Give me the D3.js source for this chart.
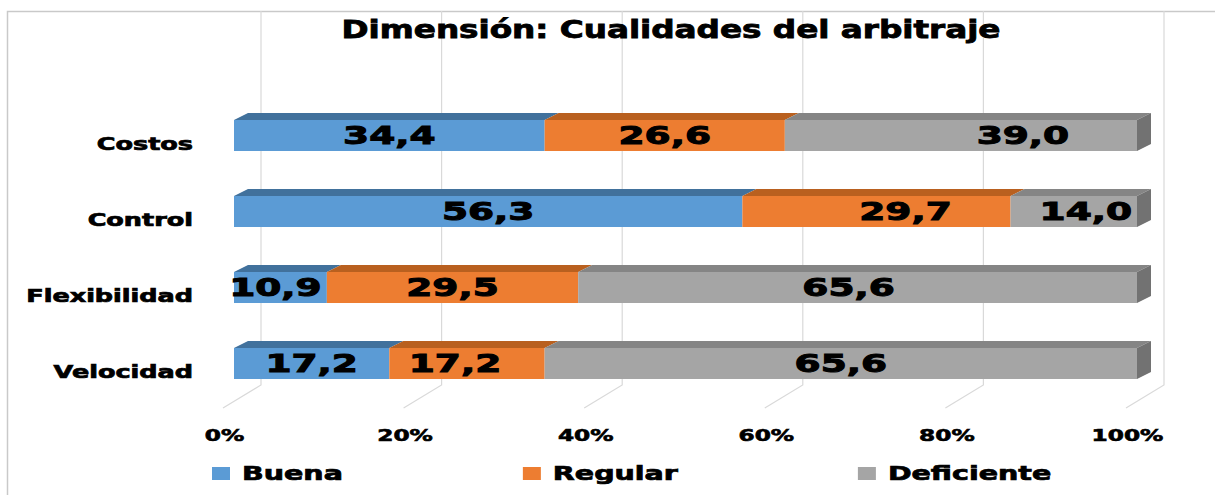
<!DOCTYPE html>
<html>
<head>
<meta charset="utf-8">
<script src="https://cdn.jsdelivr.net/npm/d3@7"></script>
<style>
  body { margin: 0; background: #fff; }
  text { font-family: 'DejaVu Sans', sans-serif; font-weight: bold; fill: #000; stroke: #000; stroke-width: 0.6px; }
</style>
</head>
<body>
<script>
// data
var categories = ['Costos', 'Control', 'Flexibilidad', 'Velocidad']
var seriesNames = ['Buena', 'Regular', 'Deficiente']
var buena = [34.4, 56.3, 10.9, 17.2]
var regular = [26.6, 29.7, 29.5, 17.2]
var deficiente = [39.0, 14.0, 65.6, 65.6]
var tickValues = [0, 0.2, 0.4, 0.6, 0.8, 1]

var colors = ['#5B9BD5', '#ED7D31', '#A5A5A5']
var topColors = ['#41719C', '#B9601F', '#858585']
var sideColor = '#727272'

// labels that were dragged off-centre in the original
var labelNudge = {
    'Costos|Deficiente': 62,
    'Control|Regular': 29,
    'Control|Deficiente': 12,
    'Flexibilidad|Buena': -5,
    'Flexibilidad|Deficiente': -9,
    'Velocidad|Regular': -12
}

var W = 1215, H = 495
var stretch = 1.5          // the original picture is stretched sideways
var depth = { dx: 14, dy: -7 }

var rows = categories.map((c, i) => ({
    cat: c, Buena: buena[i], Regular: regular[i], Deficiente: deficiente[i]
}))

var stack = d3.stack().keys(seriesNames).offset(d3.stackOffsetExpand)
var layers = stack(rows)

var x = d3.scaleLinear().domain([0, 1]).range([234, 1137])
var y = d3.scaleBand().domain(categories).range([97.5, 401.5])
    .paddingInner(0.592).paddingOuter(0.296)

var es = d3.formatLocale({ decimal: ',', thousands: '.', grouping: [3], currency: ['', ''] })
var fmt = es.format('.1f')

var svg = d3.select('body').append('svg')
    .attr('width', W)
    .attr('height', H)

// frame
svg.append('path')
    .attr('d', 'M7.5,' + H + 'V11.5H' + W)
    .attr('fill', 'none')
    .attr('stroke', '#C9C9C9')
    .attr('stroke-width', 1.5)

// back wall gridlines + floor lines
var wallDx = 27, floorDx = -11
svg.append('g').selectAll('path')
    .data(tickValues)
    .join('path')
    .attr('d', v => 'M' + (x(v) + wallDx) + ',11V385L' + (x(v) + floorDx) + ',408')
    .attr('fill', 'none')
    .attr('stroke', '#D9D9D9')
    .attr('stroke-width', 1.2)

// title
svg.append('text')
    .attr('transform', 'translate(671,38) scale(1.36,1)')
    .attr('text-anchor', 'middle')
    .style('font-size', '24px')
    .style('stroke-width', '0.8px')
    .text('Dimensión: Cualidades del arbitraje')

// bars
var barG = svg.append('g')
layers.forEach((layer, si) => {
    var g = barG.append('g')
    layer.forEach((d, ri) => {
        var x0 = x(d[0]), x1 = x(d[1])
        var yt = y(d.data.cat), yb = yt + y.bandwidth()
        g.append('rect')
            .attr('x', x0).attr('y', yt)
            .attr('width', x1 - x0).attr('height', y.bandwidth())
            .attr('fill', colors[si])
        g.append('path')
            .attr('d', 'M' + x0 + ',' + yt + 'L' + x1 + ',' + yt +
                'L' + (x1 + depth.dx) + ',' + (yt + depth.dy) +
                'L' + (x0 + depth.dx) + ',' + (yt + depth.dy) + 'Z')
            .attr('fill', topColors[si])
        if (si === layers.length - 1) {
            g.append('path')
                .attr('d', 'M' + x1 + ',' + yt + 'L' + (x1 + depth.dx) + ',' + (yt + depth.dy) +
                    'L' + (x1 + depth.dx) + ',' + (yb + depth.dy) + 'L' + x1 + ',' + yb + 'Z')
                .attr('fill', sideColor)
        }
    })
})

// value labels
var values = { Buena: buena, Regular: regular, Deficiente: deficiente }
layers.forEach(layer => {
    layer.forEach((d, ri) => {
        var key = d.data.cat + '|' + layer.key
        var cx = (x(d[0]) + x(d[1])) / 2 + (labelNudge[key] || 0)
        var cy = y(d.data.cat) + y.bandwidth() / 2 + 8.5
        svg.append('text')
            .attr('transform', 'translate(' + cx + ',' + cy + ') scale(' + stretch + ',1)')
            .attr('text-anchor', 'middle')
            .style('font-size', '25px')
            .style('stroke-width', '1px')
            .text(fmt(values[layer.key][ri]))
    })
})

// category labels
svg.append('g').selectAll('text')
    .data(categories)
    .join('text')
    .attr('transform', c => 'translate(193,' + (y(c) + y.bandwidth() / 2 + 14) + ') scale(' + stretch + ',1)')
    .attr('text-anchor', 'end')
    .style('font-size', '17px')
    .style('stroke-width', '0.7px')
    .text(c => c)

// x axis labels sit on the front edge of the floor
var axis = svg.append('g')
    .attr('transform', 'translate(-10,441)')
    .call(d3.axisBottom(x).tickValues(tickValues).tickSize(0).tickFormat(d3.format('.0%')))
axis.select('.domain').remove()
axis.selectAll('text')
    .attr('y', 0).attr('dy', 0)
    .attr('transform', 'scale(' + stretch + ',1)')
    .attr('fill', '#000')
    .style('font-family', 'DejaVu Sans, sans-serif')
    .style('font-weight', 'bold')
    .style('font-size', '15.5px')
    .style('stroke', '#000')
    .style('stroke-width', '0.6px')

// legend
var legend = svg.append('g')
var lx = 212
seriesNames.forEach((name, i) => {
    legend.append('rect')
        .attr('x', lx).attr('y', 467)
        .attr('width', 18).attr('height', 13)
        .attr('fill', colors[i])
    var t = legend.append('text')
        .attr('transform', 'translate(' + (lx + 30) + ',480) scale(' + stretch + ',1)')
        .style('font-size', '19px')
        .style('stroke-width', '0.7px')
        .text(name)
    var w = t.node().getComputedTextLength() * stretch
    lx += 30 + w + 180
})
</script>
</body>
</html>
